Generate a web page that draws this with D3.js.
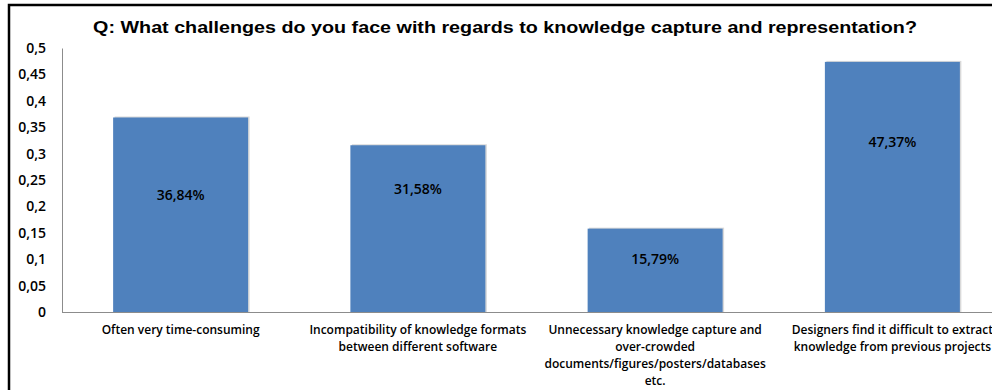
<!DOCTYPE html>
<html><head><meta charset="utf-8">
<script src="https://cdn.jsdelivr.net/npm/d3@7"></script>
<style>
html,body{margin:0;padding:0;background:#fff;overflow:hidden;}
svg{display:block;}
</style></head>
<body>
<svg id="chart" width="992" height="390"></svg>
<script>
const title = "Q: What challenges do you face with regards to knowledge capture and representation?";
const categories = [
  ["Often very time-consuming"],
  ["Incompatibility of knowledge formats", "between different software"],
  ["Unnecessary knowledge capture and", "over-crowded", "documents/figures/posters/databases", "etc."],
  ["Designers find it difficult to extract", "knowledge from previous projects"]
];
const values = [0.3684, 0.3158, 0.1579, 0.4737];
const valueLabels = ["36,84%", "31,58%", "15,79%", "47,37%"];
const yTicks = [0, 0.05, 0.1, 0.15, 0.2, 0.25, 0.3, 0.35, 0.4, 0.45, 0.5];

(function () {
// label placement inside bars (fraction of bar height from the top)
const labelFrac = [0.40, 0.26, 0.36, 0.32];
const labelFont = "'Open Sans', sans-serif";

const svg = d3.select("#chart");
const mLeft = 62, mTop = 48, mBottom = 312, plotRight = 62 + 949;

const x = d3.scaleBand().domain(d3.range(categories.length)).range([mLeft, plotRight])
  .paddingInner(0.431).paddingOuter(0.2155);
const y = d3.scaleLinear().domain([0, 0.5]).range([mBottom, mTop]);

// outer border
svg.append("rect").attr("x", 9).attr("y", 5).attr("width", 1100).attr("height", 500)
  .attr("fill", "none").attr("stroke", "#000").attr("stroke-width", 2.5);

// title (slightly stretched horizontally like the reference)
svg.append("text").attr("transform", "translate(505,33) scale(1.16,1)").attr("text-anchor", "middle")
  .attr("font-family", "Liberation Sans, Arial, sans-serif").attr("font-weight", "bold")
  .attr("font-size", "17px").attr("fill", "#000").text(title);

// bar shadows
svg.append("g").selectAll("rect").data(values).join("rect")
  .attr("x", (d, i) => x(i) + 1.5).attr("y", d => y(d) - 1)
  .attr("width", x.bandwidth()).attr("height", d => mBottom - y(d) + 1)
  .attr("fill", "#d9d9d9");

// bars
svg.append("g").selectAll("rect").data(values).join("rect")
  .attr("x", (d, i) => x(i)).attr("y", d => y(d))
  .attr("width", x.bandwidth()).attr("height", d => mBottom - y(d))
  .attr("fill", "#4F81BD");

// y axis
const yAxis = d3.axisLeft(y).tickValues(yTicks).tickSize(0).tickPadding(16)
  .tickFormat(d => String(d).replace(".", ","));
const gy = svg.append("g").attr("transform", `translate(${mLeft},0)`).call(yAxis);
gy.select(".domain").attr("stroke", "#8c8c8c").attr("stroke-width", 1);
gy.selectAll("text").attr("font-family", labelFont).attr("font-weight", "600")
  .attr("font-size", "14px").attr("fill", "#000");

// x axis line
svg.append("line").attr("x1", mLeft).attr("x2", 992).attr("y1", mBottom + 0.5).attr("y2", mBottom + 0.5)
  .attr("stroke", "#8c8c8c").attr("stroke-width", 1);

// category labels
const cat = svg.append("g").selectAll("text").data(categories).join("text")
  .attr("text-anchor", "middle")
  .attr("font-family", labelFont).attr("font-weight", "600")
  .attr("font-size", "12px").attr("fill", "#000");
cat.each(function(lines, i) {
  d3.select(this).selectAll("tspan").data(lines).join("tspan")
    .attr("x", x(i) + x.bandwidth() / 2)
    .attr("y", (l, j) => 334 + j * 17)
    .text(l => l);
});

// value labels
svg.append("g").selectAll("text").data(values).join("text")
  .attr("text-anchor", "middle")
  .attr("x", (d, i) => x(i) + x.bandwidth() / 2)
  .attr("y", (d, i) => y(d) + (mBottom - y(d)) * labelFrac[i] + 5)
  .attr("font-family", labelFont).attr("font-weight", "600")
  .attr("font-size", "14px").attr("fill", "#000")
  .text((d, i) => valueLabels[i]);
})();
</script>
</body></html>
